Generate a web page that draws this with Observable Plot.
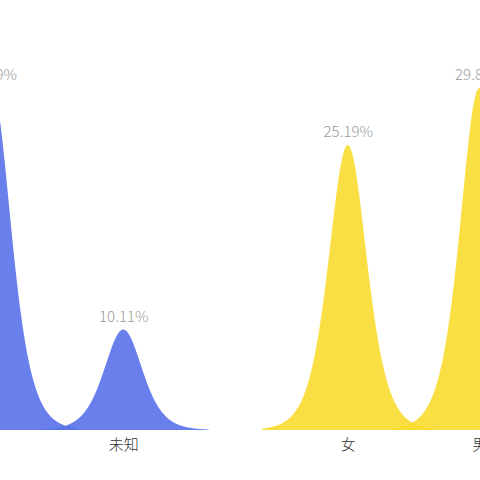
<!DOCTYPE html>
<html>
<head>
<meta charset="utf-8">
<script src="https://cdn.jsdelivr.net/npm/d3@7"></script>
<script src="https://cdn.jsdelivr.net/npm/@observablehq/plot@0.6"></script>
<style>
  html, body { margin: 0; padding: 0; background: #fff; }
  #wrap { width: 480px; height: 480px; overflow: hidden; position: relative; }
  #wrap svg { position: absolute; left: -110px; top: 0; max-width: none !important; width: 692px !important; height: 480px !important; }
</style>
</head>
<body>
<div id="wrap"></div>
<script>
// Data read from the (cropped) reference
const groups = ["蓝组", "黄组"];
const blueCategories = ["男", "未知"];
const blueValues = [29.89, 10.11];
const yellowCategories = ["女", "男"];
const yellowValues = [25.19, 29.85];
const groupColors = ["#5972ea", "#f9db30"];

// y axis range of the original chart (minimum sits at the baseline)
const yMin = 1.9, yMax = 35.4;

// table built from the arrays
const rows = [
  ...blueCategories.map((c, i) => ({group: groups[0], slot: i, cat: c, value: blueValues[i], id: "b" + i})),
  ...yellowCategories.map((c, i) => ({group: groups[1], slot: i, cat: c, value: yellowValues[i], id: "y" + i}))
];

// mountain-shaped glyph for each bar (shape only, height = value)
const shapeWidth = 0.195;
const sech2 = u => { const c = Math.cosh(u); return 1 / (c * c); };
const glyph = rows.flatMap(r =>
  d3.range(-0.65, 0.6501, 0.01).map(d => ({
    group: r.group, id: r.id,
    x: r.slot + d,
    y: yMin + (r.value - yMin) * sech2(d / shapeWidth)
  }))
);

const chart = Plot.plot({
  width: 692,
  height: 480,
  marginLeft: 0,
  marginRight: 0,
  marginTop: 20,
  marginBottom: 50,
  fx: {domain: groups, paddingInner: 0.26, paddingOuter: 0.1, axis: null},
  x: {domain: [-0.5, 1.5], axis: null},
  y: {domain: [yMin, yMax], axis: null},
  color: {domain: groups, range: groupColors},
  marks: [
    Plot.areaY(glyph, {fx: "group", x: "x", y1: yMin, y2: "y", z: "id", fill: "group", fillOpacity: 0.9}),
    Plot.text(rows, {
      fx: "group", x: "slot", y: "value",
      text: d => d.value.toFixed(2) + "%",
      dy: -13, fill: "#9a9a9a", fontSize: 15, fontWeight: 300,
      fontFamily: "'Noto Sans CJK SC', 'Noto Sans', sans-serif"
    }),
    Plot.text(rows, {
      fx: "group", x: "slot", y: yMin,
      text: "cat",
      dy: 15, fill: "#333", fontSize: 15, fontWeight: 300,
      fontFamily: "'Noto Sans CJK SC', sans-serif"
    })
  ]
});
document.getElementById("wrap").appendChild(chart);
</script>
</body>
</html>
